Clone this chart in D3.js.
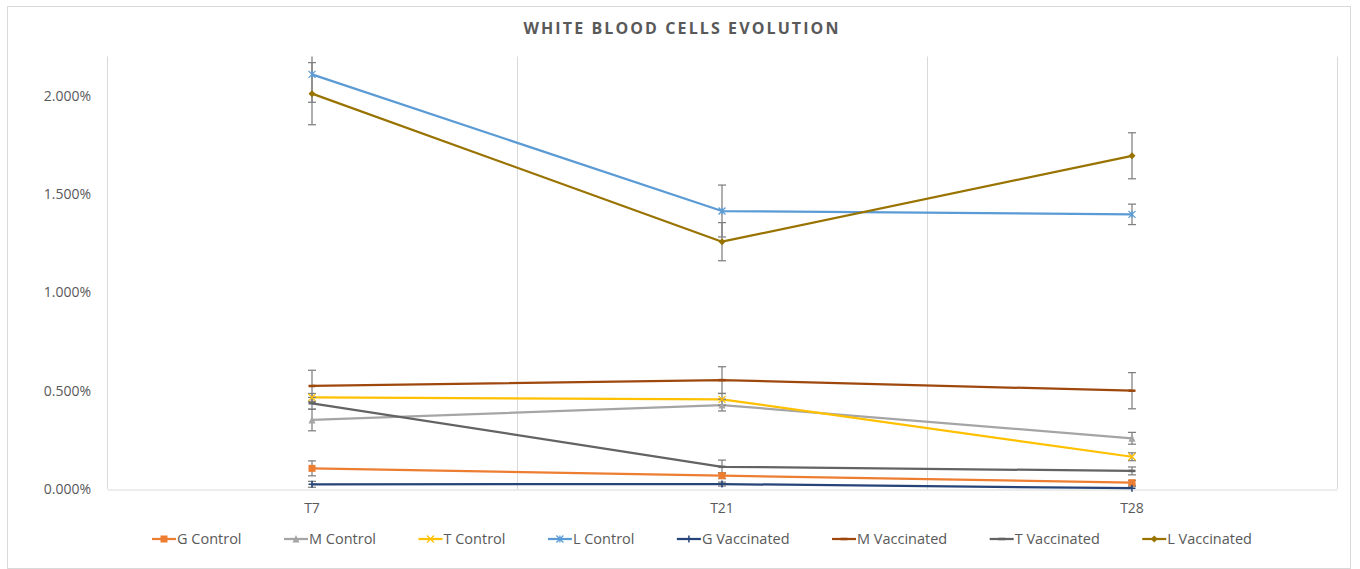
<!DOCTYPE html>
<meta charset="utf-8">
<title>White Blood Cells Evolution</title>
<script src="https://d3js.org/d3.v7.min.js"></script>
<style>
  body { margin: 0; background: #fff; }
  text { font-family: "Open Sans", sans-serif; fill: #595959; }
</style>
<body>
<div id="chart"></div>
<script>
// categories and series (values in %)
var categories = ["T7", "T21", "T28"];
var seriesNames = ["G Control", "M Control", "T Control", "L Control",
                   "G Vaccinated", "M Vaccinated", "T Vaccinated", "L Vaccinated"];

var gControl = [0.105, 0.068, 0.032];
var mControl = [0.351, 0.427, 0.258];
var tControl = [0.466, 0.456, 0.164];
var lControl = [2.109, 1.414, 1.397];
var gVacc    = [0.024, 0.025, 0.004];
var mVacc    = [0.524, 0.554, 0.500];
var tVacc    = [0.436, 0.113, 0.092];
var lVacc    = [2.011, 1.258, 1.695];

// error bar half-widths (in %)
var gControlErr = [0.038, 0.015, 0.012];
var mControlErr = [0.055, 0.030, 0.030];
var tControlErr = [0.020, 0.030, 0.020];
var lControlErr = [0.142, 0.132, 0.052];
var gVaccErr    = [0.015, 0.010, 0.010];
var mVaccErr    = [0.080, 0.068, 0.092];
var tVaccErr    = [0.030, 0.034, 0.020];
var lVaccErr    = [0.158, 0.097, 0.117];

var yTicks = [0, 0.5, 1.0, 1.5, 2.0];

var colors  = ["#ED7D31", "#A5A5A5", "#FFC000", "#5B9BD5", "#264478", "#9E480E", "#636363", "#997300"];
var markers = ["square", "triangle", "x", "star", "plus", "dash", "dash", "diamond"];

var values = [gControl, mControl, tControl, lControl, gVacc, mVacc, tVacc, lVacc];
var errors = [gControlErr, mControlErr, tControlErr, lControlErr, gVaccErr, mVaccErr, tVaccErr, lVaccErr];

var series = seriesNames.map(function(name, i) {
  return { name: name, color: colors[i], marker: markers[i],
           points: categories.map(function(c, j) { return { cat: c, v: values[i][j], e: errors[i][j] }; }) };
});

var W = 1360, H = 569;
var margin = {top: 56.5, right: 23, bottom: 80, left: 107};

var svg = d3.select("#chart").append("svg")
  .attr("width", W).attr("height", H);

// outer chart border
svg.append("rect")
  .attr("x", 7.5).attr("y", 6.5)
  .attr("width", 1343).attr("height", 562)
  .attr("fill", "none").attr("stroke", "#d9d9d9");

var x = d3.scaleBand().domain(categories).range([margin.left, W - margin.right]);
var y = d3.scaleLinear().domain([0, 2.2]).range([H - margin.bottom, margin.top]);

// vertical gridlines between categories
var gridX = categories.map(function(c) { return x(c); }).concat([x.range()[1]]);
svg.append("g").selectAll("line").data(gridX).join("line")
  .attr("x1", function(d) { return Math.round(d) + 0.5; })
  .attr("x2", function(d) { return Math.round(d) + 0.5; })
  .attr("y1", y(2.2)).attr("y2", y(0))
  .attr("stroke", "#d9d9d9").attr("stroke-width", 1);

// x axis
var xAxis = svg.append("g")
  .attr("transform", "translate(0," + (Math.round(y(0)) + 0.5) + ")")
  .call(d3.axisBottom(x).tickSize(0).tickPadding(14));
xAxis.select(".domain").attr("stroke", "#d9d9d9");
xAxis.selectAll("text").style("font-size", "14px").attr("fill", "#595959");

// y axis
var yAxis = svg.append("g")
  .attr("transform", "translate(" + 91 + ",0)")
  .call(d3.axisLeft(y).tickValues(yTicks).tickSize(0).tickPadding(0)
        .tickFormat(function(d) { return d3.format(".3f")(d) + "%"; }));
yAxis.select(".domain").remove();
yAxis.selectAll("text").style("font-size", "14px").attr("fill", "#595959");

// title
svg.append("text")
  .attr("x", 682).attr("y", 34)
  .attr("text-anchor", "middle")
  .style("font-size", "16px").style("font-weight", "bold")
  .style("letter-spacing", "2.1px")
  .text("WHITE BLOOD CELLS EVOLUTION");

var cx = function(d) { return x(d.cat) + x.bandwidth() / 2; };

// lines
var line = d3.line().x(cx).y(function(d) { return y(d.v); });
svg.append("g").selectAll("path").data(series).join("path")
  .attr("d", function(s) { return line(s.points); })
  .attr("fill", "none")
  .attr("stroke", function(s) { return s.color; })
  .attr("stroke-width", 2.25)
  .attr("stroke-linejoin", "round");

// error bars
var clampV = function(v) { return Math.max(0, Math.min(2.2, v)); };
var eb = svg.append("g").attr("stroke", "#7f7f7f").attr("stroke-width", 1.25).attr("fill", "none");
series.forEach(function(s) {
  s.points.forEach(function(d) {
    var px = cx(d), top = d.v + d.e, bot = d.v - d.e;
    eb.append("line").attr("x1", px).attr("x2", px)
      .attr("y1", y(clampV(top))).attr("y2", y(clampV(bot)));
    if (top <= 2.2) eb.append("line").attr("x1", px - 4).attr("x2", px + 4).attr("y1", y(top)).attr("y2", y(top));
    if (bot >= 0) eb.append("line").attr("x1", px - 4).attr("x2", px + 4).attr("y1", y(bot)).attr("y2", y(bot));
  });
});

// marker drawing
function drawMarker(g, type, color, px, py) {
  var r = 3.5;
  if (type === "square") {
    g.append("rect").attr("x", px - r).attr("y", py - r).attr("width", 2 * r).attr("height", 2 * r).attr("fill", color);
  } else if (type === "triangle") {
    g.append("path").attr("d", "M" + px + "," + (py - r - 0.5) + "L" + (px + r) + "," + (py + r) + "L" + (px - r) + "," + (py + r) + "Z").attr("fill", color);
  } else if (type === "diamond") {
    g.append("path").attr("d", "M" + px + "," + (py - r) + "L" + (px + r) + "," + py + "L" + px + "," + (py + r) + "L" + (px - r) + "," + py + "Z").attr("fill", color);
  } else if (type === "x" || type === "star") {
    g.append("path").attr("d", "M" + (px - r) + "," + (py - r) + "L" + (px + r) + "," + (py + r) + "M" + (px + r) + "," + (py - r) + "L" + (px - r) + "," + (py + r)
      + (type === "star" ? "M" + px + "," + (py - r) + "L" + px + "," + (py + r) : ""))
      .attr("stroke", color).attr("stroke-width", 1.25).attr("fill", "none");
  } else if (type === "plus") {
    g.append("path").attr("d", "M" + (px - r) + "," + py + "L" + (px + r) + "," + py + "M" + px + "," + (py - r) + "L" + px + "," + (py + r))
      .attr("stroke", color).attr("stroke-width", 1.5).attr("fill", "none");
  } else if (type === "dash") {
    g.append("path").attr("d", "M" + (px - r) + "," + py + "L" + (px + r) + "," + py)
      .attr("stroke", color).attr("stroke-width", 2.5).attr("fill", "none");
  }
}

var mk = svg.append("g");
series.forEach(function(s) {
  s.points.forEach(function(d) { drawMarker(mk, s.marker, s.color, cx(d), y(d.v)); });
});

// legend: lay out items between x=152 and x=1252 with equal gaps
var legend = svg.append("g").attr("transform", "translate(0,539)");
var items = series.map(function(s) {
  var item = legend.append("g");
  item.append("line").attr("x1", 0).attr("x2", 24).attr("y1", 0).attr("y2", 0)
    .attr("stroke", s.color).attr("stroke-width", 2.25);
  drawMarker(item, s.marker, s.color, 12, 0);
  var t = item.append("text").attr("x", 25).attr("y", 0).attr("dy", "0.35em")
    .style("font-size", "14.5px").text(s.name);
  return { g: item, w: 25 + t.node().getComputedTextLength() };
});
var totalW = d3.sum(items, function(d) { return d.w; });
var gap = (1252 - 152 - totalW) / (items.length - 1);
var lx = 152;
items.forEach(function(it) {
  it.g.attr("transform", "translate(" + lx + ",0)");
  lx += it.w + gap;
});
</script>
</body>
